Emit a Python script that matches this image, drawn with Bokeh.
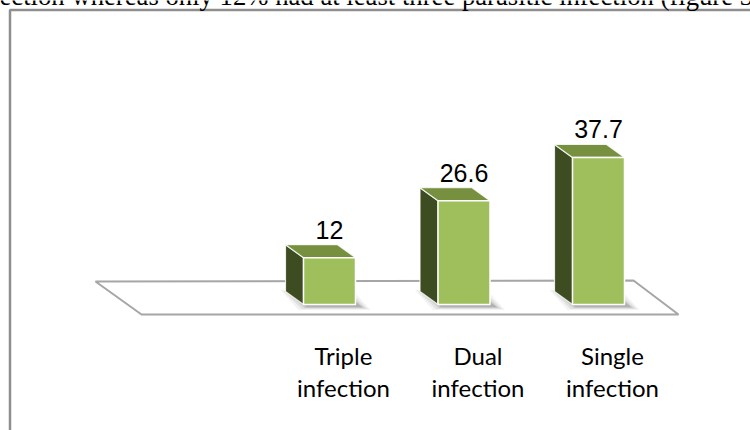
from bokeh.plotting import figure
from bokeh.models import Range1d, InlineStyleSheet
from bokeh.core.properties import value
from bokeh.embed import file_html
from bokeh.resources import INLINE

# ---- data ----
categories = ["Triple infection", "Dual infection", "Single infection"]
values = [12, 26.6, 37.7]
value_labels = ["12", "26.6", "37.7"]
caption = "ection whereas only 12% had at least three parasitic infection (figure 3"

# ---- layout constants (pixels) ----
W, H = 750, 430
X0, PX = 329.0, 134.5      # pixel of first category centre, pixels per category
Y0, PY = 304.0, 3.9        # pixel of baseline, pixels per percentage unit
TSHIFT = 10                # baseline correction for text rendering

def sx(px):
    return (px - X0) / PX

def sy(py):
    return (Y0 - py) / PY

p = figure(width=W, height=H,
           x_range=Range1d(sx(0), sx(W)), y_range=Range1d(sy(H), sy(0)),
           output_backend="svg", toolbar_location=None,
           x_axis_type=None, y_axis_type=None, min_border=0,
           outline_line_color=None, background_fill_color="white",
           border_fill_color="white")
p.grid.visible = False
p.stylesheets = [InlineStyleSheet(css="text { font-variant-ligatures: none; font-feature-settings: 'liga' 0, 'clig' 0; }")]

# document box
p.line(x=[sx(9.5), sx(9.5), sx(760)], y=[sy(440), sy(9.5), sy(9.5)],
       line_color="#8e8e8e", line_width=2.5)

# caption text (cut off at the top)
p.text(x=[sx(-1)], y=[sy(5 - TSHIFT)], text=[caption], text_align="left",
       text_baseline="alphabetic", text_font=value("Liberation Serif"),
       text_font_size="26.7px", text_color="black")

# floor
p.patch(x=[sx(95), sx(633), sx(678), sx(141)],
        y=[sy(281), sy(280), sy(314), sy(314)],
        fill_color=None, line_color="#a6a6a6", line_width=2)

hw = 26 / PX
ddx = -18 / PX
ddy = 13 / PY
idx = list(range(len(categories)))

# shadows
for k, a in [(10, 0.05), (7, 0.07), (4, 0.09), (2, 0.12)]:
    xs, ys = [], []
    for i in idx:
        l, r = i - hw, i + hw
        ox, oy = 5 / PX, -2 / PY
        e, ev = k / PX, (k * 0.35) / PY
        xs.append([l + ox - e, r + ox + e, r + ddx + ox + e, l + ddx + ox - e])
        ys.append([oy - ev, oy - ev, ddy + oy + ev, ddy + oy + ev])
    p.patches(xs=xs, ys=ys, fill_color="black", fill_alpha=a, line_color=None)

# side faces
side_x = [[i - hw, i - hw, i - hw + ddx, i - hw + ddx] for i in idx]
side_y = [[0, v, v + ddy, ddy] for v in values]
p.patches(xs=side_x, ys=side_y, fill_color="#3e4c22", line_color="white",
          line_width=1.2, line_alpha=0.8)

# top faces
top_x = [[i - hw, i + hw, i + hw + ddx, i - hw + ddx] for i in idx]
top_y = [[v, v, v + ddy, v + ddy] for v in values]
p.patches(xs=top_x, ys=top_y, fill_color="#76903f", line_color="white",
          line_width=1.2, line_alpha=0.8)

# front faces
p.quad(left=[i - hw for i in idx], right=[i + hw for i in idx],
       bottom=[0] * len(values), top=values,
       fill_color="#9fbf5d", line_color="white", line_width=1.5)

# value labels
p.text(x=idx, y=[v + (18 + TSHIFT) / PY for v in values], text=value_labels,
       text_align="center", text_baseline="alphabetic",
       text_font=value("Liberation Sans"), text_font_size="25px",
       text_color="black")

# category labels (two lines)
line1 = [c.split(" ")[0] for c in categories]
line2 = [" ".join(c.split(" ")[1:]) for c in categories]
lx = [i + 14 / PX for i in idx]
p.text(x=lx, y=[sy(365 - TSHIFT)] * len(idx), text=line1, text_align="center",
       text_baseline="alphabetic", text_font=value("Lato"),
       text_font_size="24px", text_color="black")
p.text(x=lx, y=[sy(397 - TSHIFT)] * len(idx), text=line2, text_align="center",
       text_baseline="alphabetic", text_font=value("Lato"),
       text_font_size="24px", text_color="black")

open("out.html", "w").write(file_html(p, INLINE))
